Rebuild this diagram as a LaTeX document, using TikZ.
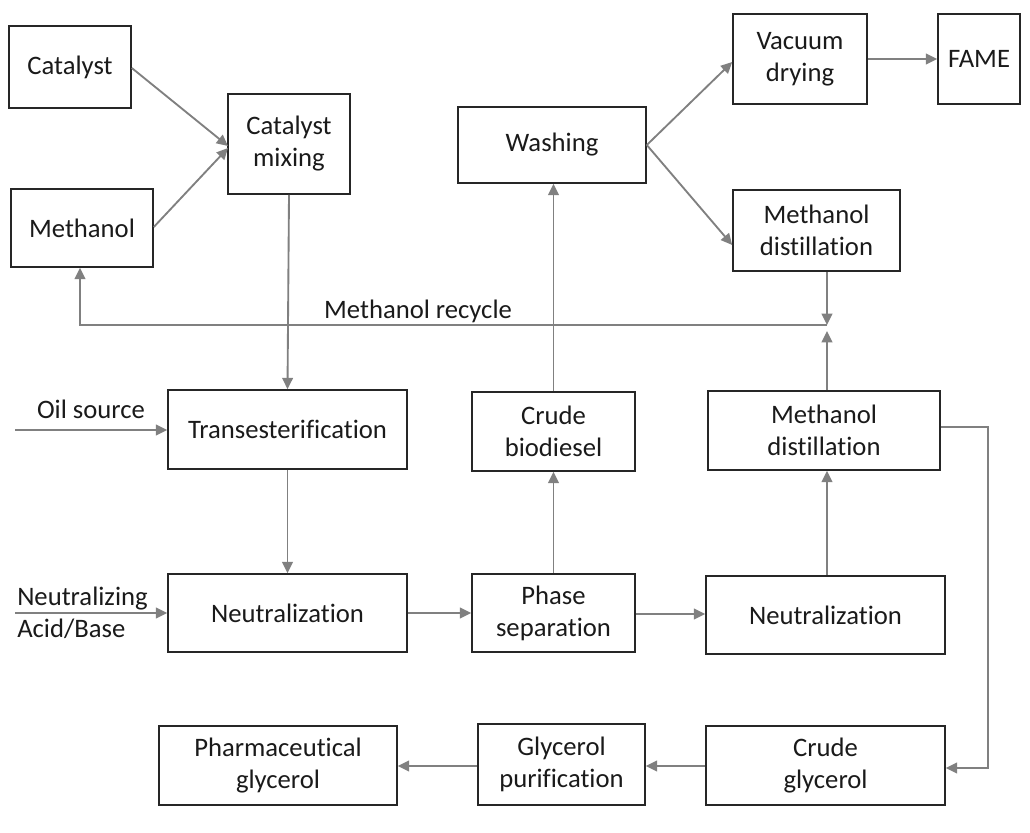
\documentclass[tikz,border=0pt]{standalone}
\usepackage{fontspec}
\setmainfont{Carlito}[RawFeature=-liga]
\usetikzlibrary{arrows.meta}
\definecolor{lgray}{HTML}{808080}
\definecolor{bdr}{HTML}{262626}
\definecolor{txt}{HTML}{1A1A1A}
\tikzset{
  box/.style={draw=bdr, line width=1.2pt, inner sep=0pt, align=center, text=txt,
    font=\fontsize{20}{24}\selectfont},
  lbl/.style={inner sep=0pt, text=txt, font=\fontsize{20}{24}\selectfont},
  flow/.style={draw=lgray, line width=1.4pt, -{Triangle[length=8.5pt,width=8pt]}},
  plain/.style={draw=lgray, line width=1.4pt}
}
\newcommand{\bx}[6]{\node[box, minimum width={(#4-#2)*0.75pt}, minimum height={(#5-#3)*0.75pt}] (#1) at ({(#2+#4)/2},{(#3+#5)/2}) {#6};}
\begin{document}
\begin{tikzpicture}[x=0.75pt,y=-0.75pt]
\useasboundingbox (0,0) rectangle (1030,832);
\bx{cat}{9}{26}{131}{108}{Catalyst}
\bx{meth}{11}{189}{153}{267}{Methanol}
\bx{mix}{228}{94}{350}{194}{Catalyst\\mixing}
\bx{wash}{458}{107}{646}{183}{Washing}
\bx{vac}{733}{14}{867}{104}{Vacuum\\drying}
\bx{fame}{938}{14}{1020}{104}{FAME}
\bx{md1}{733}{190}{900}{271}{Methanol\\distillation}
\bx{trans}{168}{390}{407}{469}{Transesterification}
\bx{crude}{472}{392}{635}{471}{Crude\\biodiesel}
\bx{md2}{708}{391}{940}{470}{Methanol\\distillation}
\bx{neu1}{168}{574}{407}{652}{Neutralization}
\bx{phase}{472}{574}{635}{652}{Phase\\separation}
\bx{neu2}{706}{576}{945}{654}{Neutralization}
\bx{pharma}{159}{726}{397}{805}{Pharmaceutical\\glycerol}
\bx{gpur}{478}{724}{645}{805}{Glycerol\\purification}
\bx{cgly}{706}{726}{945}{805}{Crude\\glycerol}

\coordinate (rj) at (827,325);
\coordinate (rj2) at (827,331);
\coordinate (rl) at (80,325);
\coordinate (oil) at (15,430);
\coordinate (nab) at (15,613);
\coordinate (c1) at (988,427);
\coordinate (c2) at (988,768);

\node[lbl, anchor=base] (oill) at (91,418) {Oil source};
\node[lbl, anchor=base] (recl) at (418,318) {Methanol recycle};
\node[lbl, anchor=base west] (nl1) at (17,605) {Neutralizing};
\node[lbl, anchor=base west] (nl2) at (17,637) {Acid/Base};

\draw[flow] (cat.east |- 0,68) -- (228,146);
\draw[flow] (meth.east |- 0,227) -- (228,148);
\draw[flow] (mix.south) -- (trans.north);
\draw[flow] (oil) -- (oil -| trans.west);
\draw[flow] (trans.south) -- (neu1.north);
\draw[flow] (nab) -- (nab -| neu1.west);
\draw[flow] (neu1.east |- 0,613) -- (phase.west |- 0,613);
\draw[flow] (phase.east |- 0,614) -- (neu2.west |- 0,614);
\draw[flow] (phase.north) -- (crude.south);
\draw[flow] (crude.north) -- (wash.south -| crude.north);
\draw[flow] (wash.east) -- (vac.west |- 0,62);
\draw[flow] (wash.east) -- (md1.west |- 0,245);
\draw[flow] (vac.east) -- (fame.west |- vac.east);
\draw[flow] (md1.south -| rj) -- (rj);
\draw[flow] (neu2.north -| rj) -- (md2.south -| rj);
\draw[flow] (md2.north -| rj) -- (rj2);
\draw[flow] (rj) -- (rl) -- (meth.south -| rl);
\draw[flow] (md2.east |- c1) -- (c1) -- (c2) -- (c2 -| cgly.east);
\draw[flow] (cgly.west |- 0,766) -- (gpur.east |- 0,766);
\draw[flow] (gpur.west |- 0,766) -- (pharma.east |- 0,766);
\end{tikzpicture}
\end{document}
